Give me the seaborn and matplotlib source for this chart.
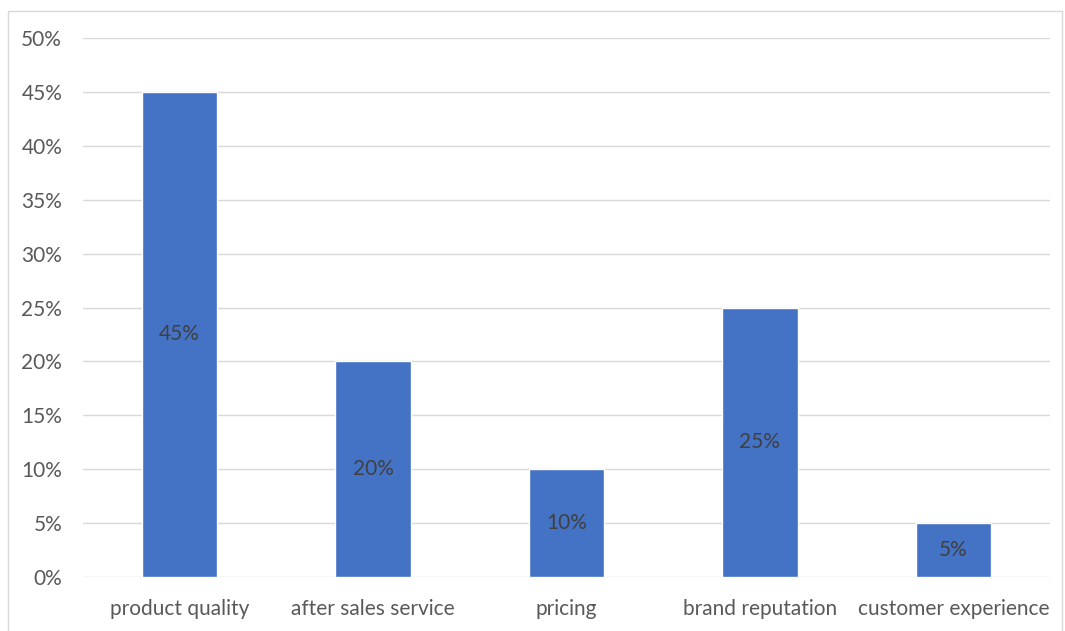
import matplotlib
matplotlib.use("Agg")
import matplotlib.pyplot as plt
from matplotlib.patches import Rectangle
import seaborn as sns
import pandas as pd

categories = ["product quality", "after sales service", "pricing", "brand reputation", "customer experience"]
values = [45, 20, 10, 25, 5]
yticks = [0, 5, 10, 15, 20, 25, 30, 35, 40, 45, 50]

sns.set_theme(style="white")
plt.rcParams['font.family'] = ['Lato', 'DejaVu Sans']

df = pd.DataFrame({"category": categories, "value": values})

fig = plt.figure(figsize=(10.65, 6.31), dpi=100)
ax = fig.add_axes([83/1065, 1-577/631, (1050-83)/1065, (577-38)/631])

sns.barplot(data=df, x="category", y="value", color="#4472C4", width=0.39,
            saturation=1, ax=ax, zorder=3)

ax.set_ylim(0, 50)
ax.set_yticks(yticks)
ax.set_yticklabels([f"{t}%" for t in yticks], color="#595959", fontsize=15)
ax.set_xticklabels(categories, color="#595959", fontsize=15)
ax.tick_params(axis="y", length=0, pad=15)
ax.tick_params(axis="x", length=0, pad=16)
ax.set_xlabel("")
ax.set_ylabel("")
ax.grid(axis="y", color="#D9D9D9", linewidth=1, zorder=0)
ax.set_axisbelow(True)
for s in ax.spines.values():
    s.set_visible(False)

for container in ax.containers:
    ax.bar_label(container, labels=[f"{v}%" for v in values], label_type="center",
                 color="#404040", fontsize=15)

fig.patches.append(Rectangle((8/1065, -0.01), (1062-8)/1065, 1 - 11/631 + 0.01,
                             transform=fig.transFigure, fill=False,
                             edgecolor="#D9D9D9", linewidth=1))

fig.savefig("out.png", dpi=100)
